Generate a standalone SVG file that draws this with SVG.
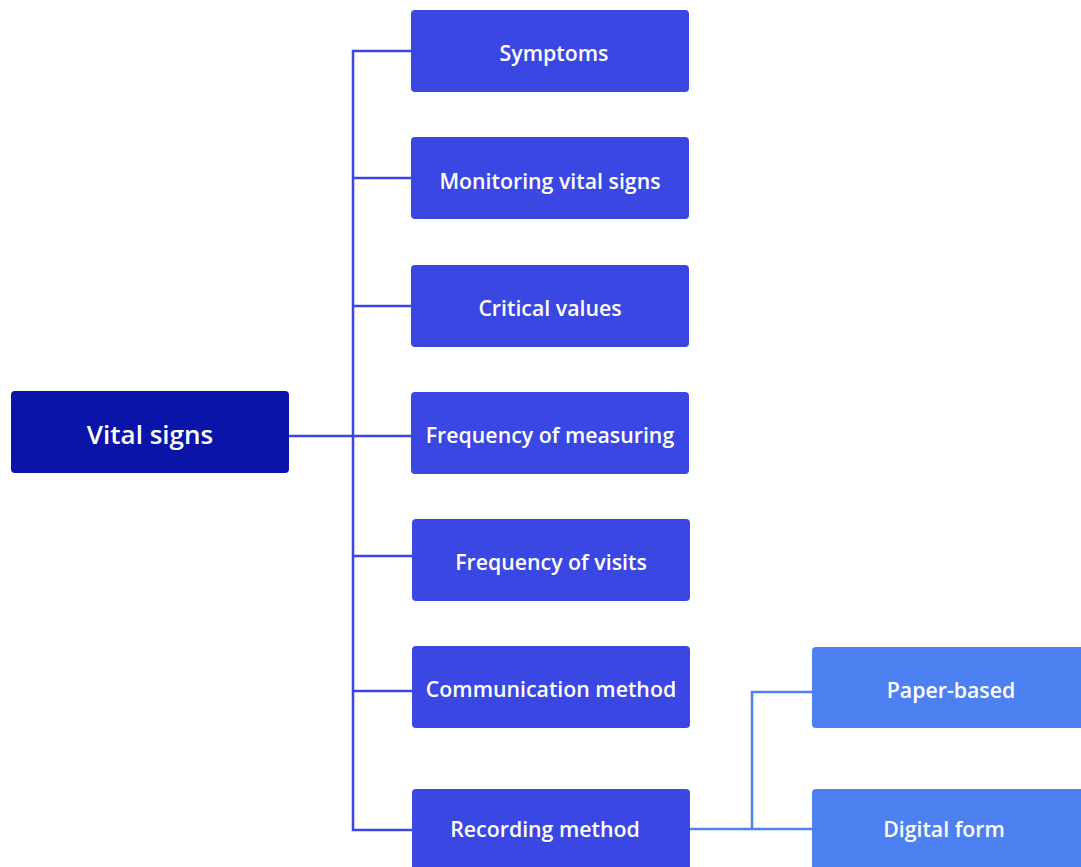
<svg xmlns="http://www.w3.org/2000/svg" width="1081" height="867" viewBox="0 0 1081 867">
<style>
.root{fill:#0a14a8}
.child{fill:#3a47e3}
.gc{fill:#4d80f0}
.t{font-family:"Open Sans","Noto Sans","Liberation Sans",sans-serif;font-weight:600;fill:#ffffff;text-anchor:middle;dominant-baseline:central;font-size:21.3px}
.c1{fill:none;stroke:#3a47e3;stroke-width:2.5}
.c2{fill:none;stroke:#4d80f0;stroke-width:2.5}
</style>
<rect width="1081" height="867" fill="#ffffff"/>
<g id="connectors">
<path class="c1" d="M289 436 H411 M411 51 H353 V830 H412 M353 178 H411 M353 306 H411 M353 556 H412 M353 691 H412"/>
<path class="c2" d="M690 829 H812 M812 692 H752 V829"/>
</g>
<g id="n-root"><rect class="root" x="11" y="391" width="278" height="82" rx="4"/><text class="t" x="150" y="434" style="font-size:26px">Vital signs</text></g>
<g id="n-symptoms"><rect class="child" x="411" y="10" width="278" height="82" rx="4"/><text class="t" x="554" y="52">Symptoms</text></g>
<g id="n-monitoring"><rect class="child" x="411" y="137" width="278" height="82" rx="4"/><text class="t" x="550" y="180">Monitoring vital signs</text></g>
<g id="n-critical"><rect class="child" x="411" y="265" width="278" height="82" rx="4"/><text class="t" x="550" y="307">Critical values</text></g>
<g id="n-freqmeas"><rect class="child" x="411" y="392" width="278" height="82" rx="4"/><text class="t" x="550" y="434">Frequency of measuring</text></g>
<g id="n-freqvisits"><rect class="child" x="412" y="519" width="278" height="82" rx="4"/><text class="t" x="551" y="561">Frequency of visits</text></g>
<g id="n-comm"><rect class="child" x="412" y="646" width="278" height="82" rx="4"/><text class="t" x="551" y="688">Communication method</text></g>
<g id="n-recording"><rect class="child" x="412" y="789" width="278" height="82" rx="4"/><text class="t" x="545" y="828">Recording method</text></g>
<g id="n-paper"><rect class="gc" x="812" y="647" width="278" height="81" rx="4"/><text class="t" x="951" y="689">Paper-based</text></g>
<g id="n-digital"><rect class="gc" x="812" y="789" width="278" height="82" rx="4"/><text class="t" x="944" y="828">Digital form</text></g>
</svg>
